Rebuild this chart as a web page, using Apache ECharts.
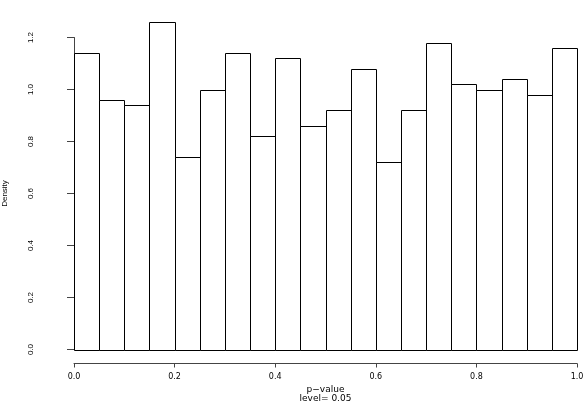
<!DOCTYPE html>
<html>
<head>
<meta charset="utf-8">
<script src="https://cdn.jsdelivr.net/npm/echarts@6/dist/echarts.min.js"></script>
<style>
  html, body { margin: 0; padding: 0; background: #fff; }
  #chart { width: 587px; height: 404px; }
</style>
</head>
<body>
<div id="chart"></div>
<script>
// histogram of p-values, 20 bins of width 0.05
const binWidth = 0.05
const binStart = [0, 0.05, 0.1, 0.15, 0.2, 0.25, 0.3, 0.35, 0.4, 0.45,
                  0.5, 0.55, 0.6, 0.65, 0.7, 0.75, 0.8, 0.85, 0.9, 0.95]
const density = [1.14, 0.96, 0.94, 1.26, 0.74, 1.00, 1.14, 0.82, 1.12, 0.86,
                 0.92, 1.08, 0.72, 0.92, 1.18, 1.02, 1.00, 1.04, 0.98, 1.16]
const xTicks = [0, 0.2, 0.4, 0.6, 0.8, 1.0]
const yTicks = [0, 0.2, 0.4, 0.6, 0.8, 1.0, 1.2]

const chart = echarts.init(document.getElementById('chart'))

const bars = binStart.map((s, i) => [s, s + binWidth, density[i]])

chart.setOption({
  animation: false,
  backgroundColor: '#fff',
  textStyle: { fontFamily: 'Liberation Sans' },
  grid: {
    left: 74,
    right: 10,
    top: 37.5,
    bottom: 54.5,
    containLabel: false,
    outerBoundsMode: 'none'
  },
  xAxis: {
    type: 'value',
    min: 0,
    max: 1,
    interval: 0.2,
    offset: 14,
    name: 'p\u2212value\nlevel= 0.05',
    nameLocation: 'middle',
    nameGap: 22,
    nameTextStyle: { fontSize: 9, lineHeight: 9, color: '#000', fontFamily: 'DejaVu Sans' },
    axisLine: { show: true, onZero: false, lineStyle: { color: '#444', width: 1 } },
    axisTick: { show: true, length: 4, lineStyle: { color: '#444' } },
    splitLine: { show: false },
    axisLabel: {
      fontSize: 8,
      color: '#000',
      fontFamily: 'DejaVu Sans',
      margin: 9,
      formatter: v => xTicks.indexOf(v) >= 0 ? v.toFixed(1) : ''
    }
  },
  yAxis: {
    type: 'value',
    min: 0,
    max: 1.2,
    interval: 0.2,
    offset: 21,
    name: 'Density',
    nameLocation: 'middle',
    nameRotate: 90,
    nameGap: 44,
    nameTextStyle: { fontSize: 8, color: '#000' },
    axisLine: { show: true, lineStyle: { color: '#444', width: 1 } },
    axisTick: { show: true, length: 7, lineStyle: { color: '#444' } },
    splitLine: { show: false },
    axisLabel: {
      fontSize: 8,
      color: '#000',
      rotate: 90,
      margin: 18,
      formatter: v => yTicks.some(t => Math.abs(t - v) < 1e-9) ? v.toFixed(1) : ''
    }
  },
  series: [{
    type: 'custom',
    data: bars,
    encode: { x: [0, 1], y: 2 },
    renderItem: function (params, api) {
      const p0 = api.coord([api.value(0), 0])
      const p1 = api.coord([api.value(1), api.value(2)])
      return {
        type: 'rect',
        shape: {
          x: Math.round(p0[0]) + 0.5,
          y: Math.round(p1[1]) + 0.5,
          width: Math.round(p1[0]) - Math.round(p0[0]),
          height: Math.round(p0[1]) - Math.round(p1[1])
        },
        style: { fill: '#fff', stroke: '#000', lineWidth: 1 }
      }
    }
  }]
})
</script>
</body>
</html>
